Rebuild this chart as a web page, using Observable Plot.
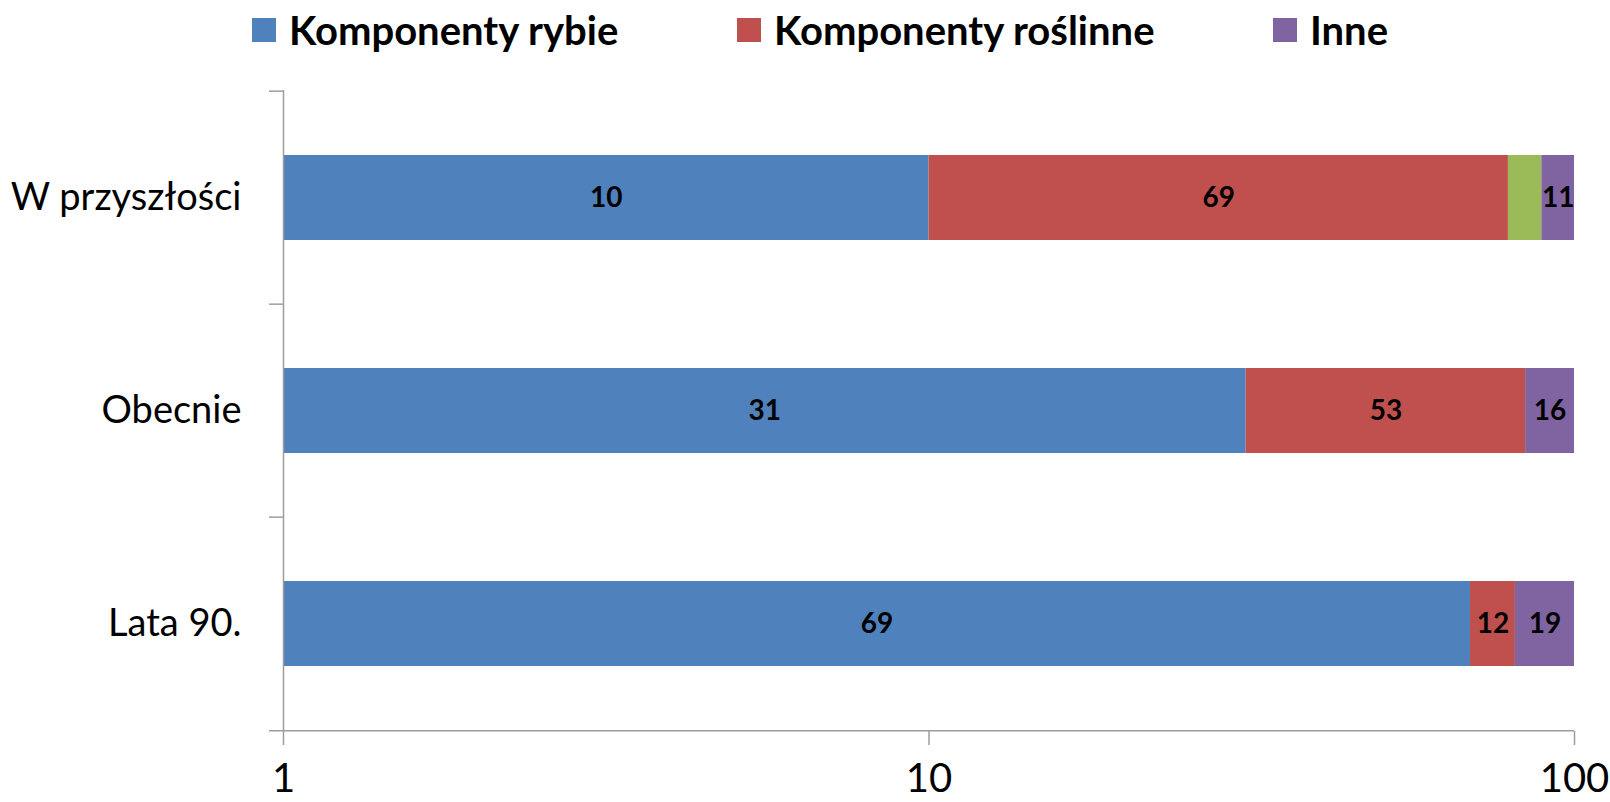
<!DOCTYPE html>
<html>
<head>
<meta charset="utf-8">
<script src="https://cdn.jsdelivr.net/npm/d3@7"></script>
<script src="https://cdn.jsdelivr.net/npm/@observablehq/plot@0.6"></script>
<style>
  html, body { margin: 0; padding: 0; background: #fff; }
  #legend { position: relative; width: 1610px; height: 60px; font-family: Lato, sans-serif; font-weight: bold; font-size: 40px; color: #000; }
  .item { position: absolute; top: 0; height: 60px; display: flex; align-items: center; white-space: nowrap; }
  .swatch { width: 24px; height: 24px; margin-right: 13px; }
  #chart svg { display: block; }
</style>
</head>
<body>
<div id="legend"></div>
<div id="chart"></div>
<script>
// ---- data ----
const categories = ["W przyszłości", "Obecnie", "Lata 90."];
const seriesNames = ["Komponenty rybie", "Komponenty roślinne", "Seria 3", "Inne"];
const rybie = [10, 31, 69];
const roslinne = [69, 53, 12];
const seria3 = [10, 0, 0];
const inne = [11, 16, 19];
const xTicks = [1, 10, 100];
const legendItems = ["Komponenty rybie", "Komponenty roślinne", "Inne"];
const colors = ["#4F81BD", "#C0504D", "#9BBB59", "#8064A2"];

const seriesValues = [rybie, roslinne, seria3, inne];

// stacked segments (log axis starts at 1)
const rows = [];
categories.forEach((c, i) => {
  let cum = 0;
  seriesNames.forEach((s, j) => {
    const v = seriesValues[j][i];
    if (!v) return;
    rows.push({category: c, series: s, value: v, x1: cum === 0 ? 1 : cum, x2: cum + v});
    cum += v;
  });
});

// ---- legend ----
const legendLeft = [252, 737, 1273];
const legend = document.getElementById("legend");
legendItems.forEach((name, k) => {
  const item = document.createElement("div");
  item.className = "item";
  item.style.left = legendLeft[k] + "px";
  const sw = document.createElement("span");
  sw.className = "swatch";
  sw.style.background = colors[seriesNames.indexOf(name)];
  const tx = document.createElement("span");
  tx.textContent = name;
  item.appendChild(sw);
  item.appendChild(tx);
  legend.appendChild(item);
});

// ---- chart ----
const W = 1610, H = 742, mt = 30, mb = 71, ml = 283, mr = 36;
const step = (H - mt - mb) / categories.length;
const axisColor = "#9d9d9d";

const chart = Plot.plot({
  width: W, height: H,
  marginTop: mt, marginBottom: mb, marginLeft: ml, marginRight: mr,
  style: {fontFamily: "Lato, sans-serif", fontSize: "38px", color: "#000", background: "#fff"},
  x: {type: "log", domain: [1, 100]},
  y: {domain: categories, padding: 0},
  color: {domain: seriesNames, range: colors},
  marks: [
    Plot.rectX(rows, {x1: "x1", x2: "x2", y: "category", fill: "series", insetTop: 64, insetBottom: 64}),
    Plot.text(rows.filter(d => legendItems.includes(d.series)), {
      x: d => Math.sqrt(d.x1 * d.x2), y: "category", text: d => String(d.value),
      fontWeight: "bold", fontSize: 28, fill: "#000"
    }),
    // y axis line
    Plot.ruleX([1], {stroke: axisColor, strokeWidth: 1.5}),
    // category boundary ticks
    Plot.ruleY(categories, {y: d => d, x1: 1, x2: 1, dy: -step / 2, insetLeft: -14, stroke: axisColor, strokeWidth: 1.5}),
    // x axis line (bottom boundary)
    Plot.ruleY([categories[categories.length - 1]], {y: d => d, x1: 1, x2: 100, dy: step / 2, insetLeft: -14, stroke: axisColor, strokeWidth: 1.5}),
    Plot.axisX({ticks: xTicks, tickFormat: d => String(d), tickSize: 14, tickPadding: 18, stroke: axisColor, strokeWidth: 1.5, label: null, fontSize: 40, fill: "#000"}),
    Plot.axisY({tickSize: 0, tickPadding: 42, label: null, fontSize: 38, fill: "#000"})
  ]
});
document.getElementById("chart").appendChild(chart);
</script>
</body>
</html>
